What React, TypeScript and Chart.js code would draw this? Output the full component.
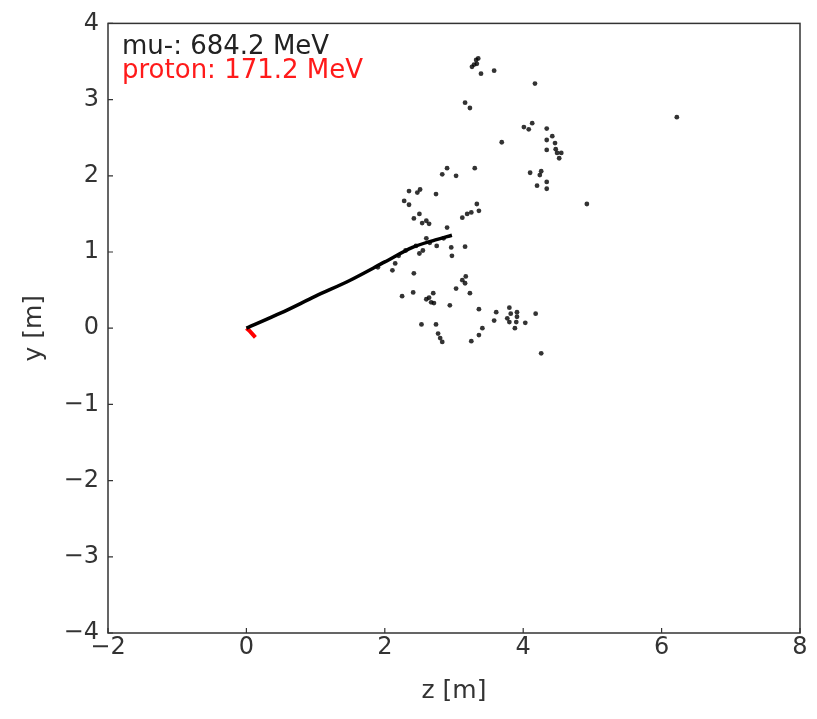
import React, { useEffect, useRef } from "react";
import { Chart, registerables } from "chart.js";

Chart.register(...registerables);

const xTicks = [-2, 0, 2, 4, 6, 8];
const yTicks = [-4, -3, -2, -1, 0, 1, 2, 3, 4];

const muonZ = [0, 0.5, 1.0, 1.5, 2.0, 2.4, 2.7, 2.97];
const muonY = [0, 0.2, 0.42, 0.63, 0.87, 1.06, 1.15, 1.22];

const protonZ = [0, 0.04, 0.13];
const protonY = [0, -0.03, -0.12];

const hitZ = [
  3.32, 3.35, 3.29, 3.26, 3.33, 3.39, 3.58, 4.17, 3.16, 3.23,
  4.01, 4.08, 4.13, 4.34, 3.69, 4.34, 4.42, 4.46, 4.34, 4.47, 4.49, 4.55, 4.52,
  4.1, 4.26, 4.24, 4.2, 4.34, 4.34, 4.92, 6.22,
  2.9, 2.83, 3.03, 3.3, 2.35, 2.47, 2.51, 2.28, 2.35, 2.74, 2.5, 2.42, 2.54, 2.64, 2.6,
  3.12, 3.19, 3.25, 3.33, 3.36, 2.9, 3.16, 2.96, 2.97,
  2.3, 2.45, 2.55, 2.65, 2.75, 2.85, 2.2, 2.6, 2.15, 1.9, 2.5,
  2.11, 2.42, 2.25, 2.41, 2.6, 2.64, 2.7, 2.71, 2.67, 3.03, 3.12, 3.17, 3.16, 3.23,
  2.94, 3.36, 3.61, 3.58, 2.53, 2.74, 2.77, 2.8, 2.83, 3.41, 3.36, 3.25,
  3.8, 3.82, 3.77, 3.8, 3.91, 3.91, 3.9, 3.88, 4.03, 4.18, 4.26,
];
const hitY = [
  3.52, 3.54, 3.46, 3.43, 3.47, 3.34, 3.38, 3.21, 2.96, 2.89,
  2.64, 2.61, 2.69, 2.62, 2.44, 2.47, 2.52, 2.43, 2.34, 2.35, 2.3, 2.3, 2.23,
  2.04, 2.06, 2.01, 1.87, 1.92, 1.83, 1.63, 2.77,
  2.1, 2.02, 2.0, 2.1, 1.8, 1.78, 1.82, 1.67, 1.62, 1.76, 1.5, 1.44, 1.38, 1.37, 1.41,
  1.45, 1.5, 1.52, 1.63, 1.54, 1.32, 1.07, 1.06, 0.95,
  1.02, 1.08, 1.02, 1.12, 1.08, 1.18, 0.95, 1.18, 0.85, 0.8, 0.98,
  0.76, 0.72, 0.42, 0.47, 0.38, 0.4, 0.46, 0.33, 0.34, 0.52, 0.63, 0.68, 0.59, 0.46,
  0.3, 0.25, 0.21, 0.1, 0.05, 0.05, -0.07, -0.13, -0.18, 0.0, -0.09, -0.17,
  0.27, 0.19, 0.13, 0.08, 0.21, 0.15, 0.08, 0.0, 0.07, 0.19, -0.33,
];

const legendLines = [
  { text: "mu-: 684.2 MeV", color: "#222222" },
  { text: "proton: 171.2 MeV", color: "#ff1a1a" },
];

const FONT = "'DejaVu Sans', sans-serif";
const AXIS_COLOR = "#333333";
const fmt = (v: number) => (v < 0 ? "\u2212" + Math.abs(v) : String(v));

const framePlugin = {
  id: "frame",
  afterDraw(chart: any) {
    const { ctx, chartArea } = chart;
    const { left, right, top, bottom } = chartArea;
    ctx.save();
    ctx.strokeStyle = AXIS_COLOR;
    ctx.lineWidth = 1.5;
    ctx.strokeRect(left, top, right - left, bottom - top);
    const xs = chart.scales.x;
    const ys = chart.scales.y;
    ctx.lineWidth = 1.2;
    ctx.beginPath();
    xTicks.forEach((v) => {
      const px = xs.getPixelForValue(v);
      ctx.moveTo(px, bottom);
      ctx.lineTo(px, bottom - 5);
    });
    yTicks.forEach((v) => {
      const py = ys.getPixelForValue(v);
      ctx.moveTo(left, py);
      ctx.lineTo(left + 5, py);
    });
    ctx.stroke();
    ctx.font = "26px " + FONT;
    ctx.textBaseline = "alphabetic";
    ctx.textAlign = "left";
    legendLines.forEach((l, i) => {
      ctx.fillStyle = l.color;
      ctx.fillText(l.text, left + 14, top + 31 + i * 24);
    });
    ctx.restore();
  },
};

export default function App() {
  const ref = useRef<HTMLCanvasElement>(null);
  useEffect(() => {
    document.body.style.margin = "0";
    const canvas = ref.current!;
    const chart = new Chart(canvas, {
      type: "scatter",
      data: {
        datasets: [
          {
            label: "hits",
            data: hitZ.map((z, i) => ({ x: z, y: hitY[i] })),
            pointRadius: 2.4,
            pointBackgroundColor: "rgba(0,0,0,0.8)",
            pointBorderWidth: 0,
            showLine: false,
          },
          {
            label: "mu-",
            data: muonZ.map((z, i) => ({ x: z, y: muonY[i] })),
            showLine: true,
            borderColor: "#000000",
            borderWidth: 3.5,
            pointRadius: 0,
            tension: 0.3,
          },
          {
            label: "proton",
            data: protonZ.map((z, i) => ({ x: z, y: protonY[i] })),
            showLine: true,
            borderColor: "#ff0000",
            borderWidth: 4,
            pointRadius: 0,
          },
        ],
      },
      options: {
        animation: false,
        responsive: false,
        layout: { padding: { top: 20, right: 17, left: 0, bottom: 0 } },
        plugins: { legend: { display: false }, tooltip: { enabled: false } },
        scales: {
          x: {
            type: "linear",
            min: -2,
            max: 8,
            afterBuildTicks: (s: any) => {
              s.ticks = xTicks.map((v) => ({ value: v }));
            },
            afterFit: (s: any) => {
              s.height = 86;
            },
            grid: { display: false, drawTicks: false },
            border: { display: false },
            ticks: {
              color: AXIS_COLOR,
              font: { family: FONT, size: 24 },
              padding: 0,
              maxRotation: 0,
              callback: (v: any) => fmt(Number(v)),
            },
            title: {
              display: true,
              text: "z [m]",
              color: AXIS_COLOR,
              font: { family: FONT, size: 25 },
              padding: { top: 0, bottom: 13 },
            },
          },
          y: {
            type: "linear",
            min: -4,
            max: 4,
            afterBuildTicks: (s: any) => {
              s.ticks = yTicks.map((v) => ({ value: v }));
            },
            afterFit: (s: any) => {
              s.width = 108;
            },
            grid: { display: false, drawTicks: false },
            border: { display: false },
            ticks: {
              color: AXIS_COLOR,
              font: { family: FONT, size: 24 },
              padding: 9,
              callback: (v: any) => fmt(Number(v)),
            },
            title: {
              display: true,
              text: "y [m]",
              color: AXIS_COLOR,
              font: { family: FONT, size: 25 },
              padding: { top: 19, bottom: 0 },
            },
          },
        },
      },
      plugins: [framePlugin],
    } as any);
    return () => chart.destroy();
  }, []);
  return (
    <div style={{ width: 817, height: 719, background: "#fff" }}>
      <canvas ref={ref} width={817} height={719} style={{ display: "block" }} />
    </div>
  );
}
